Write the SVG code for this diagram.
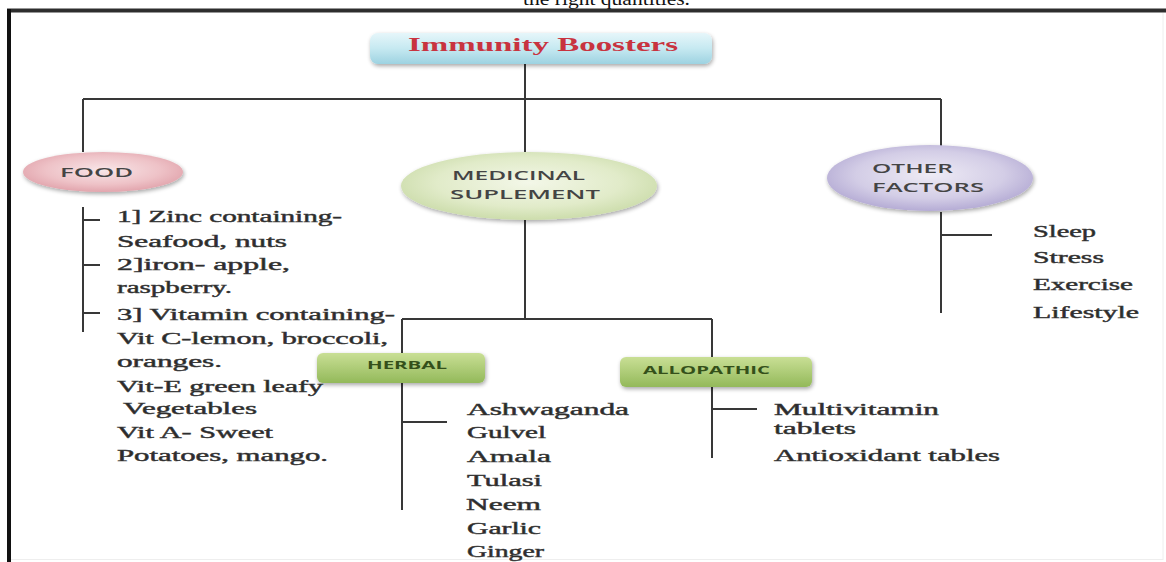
<svg xmlns="http://www.w3.org/2000/svg" width="1166" height="562" viewBox="0 0 1166 562">
<defs>
  <linearGradient id="blueGrad" x1="0" y1="0" x2="0" y2="1">
    <stop offset="0" stop-color="#e6f6fa"/>
    <stop offset="0.5" stop-color="#c6e9f1"/>
    <stop offset="1" stop-color="#9dd2e1"/>
  </linearGradient>
  <radialGradient id="foodGrad" cx="0.5" cy="0.45" r="0.6">
    <stop offset="0" stop-color="#f8e6e8"/>
    <stop offset="0.6" stop-color="#eec2c7"/>
    <stop offset="1" stop-color="#df9ea7"/>
  </radialGradient>
  <radialGradient id="medGrad" cx="0.5" cy="0.45" r="0.6">
    <stop offset="0" stop-color="#f3f7e8"/>
    <stop offset="0.6" stop-color="#e1ebc9"/>
    <stop offset="1" stop-color="#c7d9a4"/>
  </radialGradient>
  <radialGradient id="otherGrad" cx="0.5" cy="0.45" r="0.6">
    <stop offset="0" stop-color="#eeebf5"/>
    <stop offset="0.6" stop-color="#d3cde6"/>
    <stop offset="1" stop-color="#ada3d0"/>
  </radialGradient>
  <linearGradient id="greenGrad" x1="0" y1="0" x2="0" y2="1">
    <stop offset="0" stop-color="#c9df95"/>
    <stop offset="1" stop-color="#93b95a"/>
  </linearGradient>
  <filter id="shadow" x="-10%" y="-20%" width="120%" height="160%">
    <feGaussianBlur in="SourceAlpha" stdDeviation="2"/>
    <feOffset dx="1" dy="2" result="b"/>
    <feComponentTransfer><feFuncA type="linear" slope="0.35"/></feComponentTransfer>
    <feMerge><feMergeNode/><feMergeNode in="SourceGraphic"/></feMerge>
  </filter>
</defs>
<style>
  .conn { stroke: #383838; stroke-width: 2; fill: none; }
  .list { font-family: "Liberation Serif", "Times New Roman", serif; font-size: 16px; font-weight: normal; fill: #2a2a2a; stroke: #3a3a3a; stroke-width: 0.45; }
  .oval { font-family: "Open Sans", "Liberation Sans", sans-serif; font-size: 13px; font-weight: 600; fill: #444444; }
  .boxt { font-family: "Open Sans", "Liberation Sans", sans-serif; font-size: 10px; font-weight: bold; fill: #34501a; }
  .title { font-family: "Liberation Serif", "Times New Roman", serif; font-size: 19px; font-weight: bold; fill: #c8333f; }
</style>
<rect x="0" y="0" width="1166" height="562" fill="#ffffff"/>

<g id="frame">
  <text x="523" y="5" textLength="167" lengthAdjust="spacingAndGlyphs" font-family="Liberation Serif, serif" font-size="19" fill="#111">the right quantities.</text>
  <line x1="7" y1="10.5" x2="1166" y2="10.5" stroke="#2e2e2e" stroke-width="4"/>
  <line x1="9" y1="9" x2="9" y2="562" stroke="#111111" stroke-width="4"/>
  <line x1="1163" y1="13" x2="1163" y2="560" stroke="#eeeeee" stroke-width="1"/>
  <line x1="11" y1="559.5" x2="1163" y2="559.5" stroke="#eeeeee" stroke-width="1"/>
</g>

<g id="connectors">
  <path class="conn" d="M525 63 V152"/>
  <path class="conn" d="M83 99 H941"/>
  <path class="conn" d="M83 99 V152"/>
  <path class="conn" d="M941 99 V146"/>
  <path class="conn" d="M83 207 V332 M83 220 H100 M83 265 H100 M83 313 H100"/>
  <path class="conn" d="M525 220 V319"/>
  <path class="conn" d="M402 319 H712"/>
  <path class="conn" d="M402 319 V353"/>
  <path class="conn" d="M712 319 V357"/>
  <path class="conn" d="M402 383 V510 M402 422 H447"/>
  <path class="conn" d="M712 387 V458 M712 409 H757"/>
  <path class="conn" d="M941 212 V313 M941 235 H992"/>
</g>

<g id="node-immunity">
  <rect x="370" y="33" width="342" height="31" rx="8" fill="url(#blueGrad)" filter="url(#shadow)"/>
  <text class="title" x="408" y="51" textLength="270" lengthAdjust="spacingAndGlyphs">Immunity Boosters</text>
</g>

<g id="node-food">
  <ellipse cx="103" cy="172" rx="80" ry="20" fill="url(#foodGrad)" filter="url(#shadow)"/>
  <text class="oval" x="60" y="177" textLength="73" lengthAdjust="spacingAndGlyphs">FOOD</text>
</g>

<g id="food-list">
  <text class="list" x="117" y="222" textLength="225" lengthAdjust="spacingAndGlyphs">1] Zinc containing-</text>
  <text class="list" x="117" y="247" textLength="170" lengthAdjust="spacingAndGlyphs">Seafood, nuts</text>
  <text class="list" x="117" y="270" textLength="173" lengthAdjust="spacingAndGlyphs">2]iron- apple,</text>
  <text class="list" x="117" y="293" textLength="115" lengthAdjust="spacingAndGlyphs">raspberry.</text>
  <text class="list" x="117" y="320" textLength="278" lengthAdjust="spacingAndGlyphs">3] Vitamin containing-</text>
  <text class="list" x="117" y="344" textLength="271" lengthAdjust="spacingAndGlyphs">Vit C-lemon, broccoli,</text>
  <text class="list" x="117" y="367" textLength="105" lengthAdjust="spacingAndGlyphs">oranges.</text>
  <text class="list" x="117" y="392" textLength="206" lengthAdjust="spacingAndGlyphs">Vit-E green leafy</text>
  <text class="list" x="123" y="414" textLength="134" lengthAdjust="spacingAndGlyphs">Vegetables</text>
  <text class="list" x="117" y="438" textLength="156" lengthAdjust="spacingAndGlyphs">Vit A- Sweet</text>
  <text class="list" x="117" y="461" textLength="211" lengthAdjust="spacingAndGlyphs">Potatoes, mango.</text>
</g>

<g id="node-medicinal">
  <ellipse cx="529" cy="186" rx="128" ry="34" fill="url(#medGrad)" filter="url(#shadow)"/>
  <text class="oval" x="452" y="180" font-size="14" textLength="133" lengthAdjust="spacingAndGlyphs">MEDICINAL</text>
  <text class="oval" x="450" y="199" font-size="14" textLength="150" lengthAdjust="spacingAndGlyphs">SUPLEMENT</text>
</g>

<g id="node-other">
  <ellipse cx="930" cy="178" rx="103" ry="33" fill="url(#otherGrad)" filter="url(#shadow)"/>
  <text class="oval" x="872" y="173" font-size="14" textLength="81" lengthAdjust="spacingAndGlyphs">OTHER</text>
  <text class="oval" x="872" y="192" font-size="14" textLength="112" lengthAdjust="spacingAndGlyphs">FACTORS</text>
</g>

<g id="other-list">
  <text class="list" x="1033" y="237" textLength="63" lengthAdjust="spacingAndGlyphs">Sleep</text>
  <text class="list" x="1033" y="263" textLength="71" lengthAdjust="spacingAndGlyphs">Stress</text>
  <text class="list" x="1033" y="290" textLength="100" lengthAdjust="spacingAndGlyphs">Exercise</text>
  <text class="list" x="1033" y="318" textLength="106" lengthAdjust="spacingAndGlyphs">Lifestyle</text>
</g>

<g id="node-herbal">
  <rect x="317" y="353" width="168" height="30" rx="6" fill="url(#greenGrad)" filter="url(#shadow)"/>
  <text class="boxt" x="367" y="369" textLength="80" lengthAdjust="spacingAndGlyphs">HERBAL</text>
</g>

<g id="herbal-list">
  <text class="list" x="467" y="415" textLength="162" lengthAdjust="spacingAndGlyphs">Ashwaganda</text>
  <text class="list" x="467" y="438" textLength="79" lengthAdjust="spacingAndGlyphs">Gulvel</text>
  <text class="list" x="467" y="462" textLength="84" lengthAdjust="spacingAndGlyphs">Amala</text>
  <text class="list" x="467" y="486" textLength="75" lengthAdjust="spacingAndGlyphs">Tulasi</text>
  <text class="list" x="466" y="510" textLength="75" lengthAdjust="spacingAndGlyphs">Neem</text>
  <text class="list" x="467" y="534" textLength="74" lengthAdjust="spacingAndGlyphs">Garlic</text>
  <text class="list" x="467" y="557" textLength="77" lengthAdjust="spacingAndGlyphs">Ginger</text>
</g>

<g id="node-allopathic">
  <rect x="620" y="357" width="192" height="30" rx="6" fill="url(#greenGrad)" filter="url(#shadow)"/>
  <text class="boxt" x="643" y="374" textLength="127" lengthAdjust="spacingAndGlyphs">ALLOPATHIC</text>
</g>

<g id="allopathic-list">
  <text class="list" x="774" y="415" textLength="165" lengthAdjust="spacingAndGlyphs">Multivitamin</text>
  <text class="list" x="774" y="434" textLength="82" lengthAdjust="spacingAndGlyphs">tablets</text>
  <text class="list" x="774" y="461" textLength="226" lengthAdjust="spacingAndGlyphs">Antioxidant tables</text>
</g>
</svg>
